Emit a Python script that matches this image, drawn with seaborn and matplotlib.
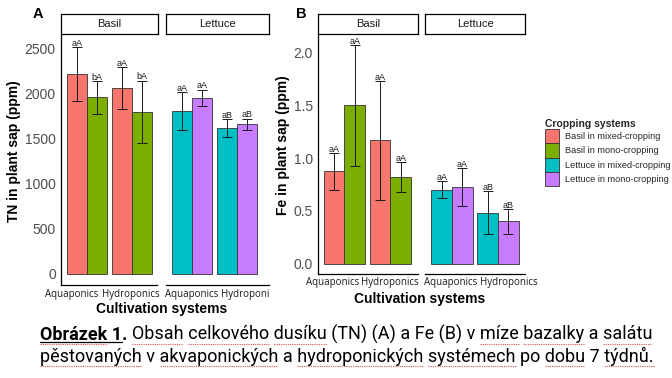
import matplotlib
matplotlib.use("Agg")
import matplotlib.pyplot as plt
import numpy as np
import pandas as pd
import seaborn as sns
from matplotlib.patches import Patch
from matplotlib.transforms import Bbox
from matplotlib.lines import Line2D

# ---------------- data ----------------
crops = ["Basil", "Lettuce"]
systems = ["Aquaponics", "Hydroponics"]
groups = ["Basil in mixed-cropping", "Basil in mono-cropping",
          "Lettuce in mixed-cropping", "Lettuce in mono-cropping"]
group_colors = ["#F8766D", "#7CAE00", "#00BFC4", "#C77CFF"]

row_crop = ["Basil", "Basil", "Basil", "Basil", "Lettuce", "Lettuce", "Lettuce", "Lettuce"]
row_group = [groups[0], groups[0], groups[1], groups[1], groups[2], groups[2], groups[3], groups[3]]
row_system = ["Aquaponics", "Hydroponics"] * 4

tn_mean = [2212, 2055, 1955, 1795, 1805, 1610, 1948, 1655]
tn_sd = [300, 234, 180, 345, 210, 100, 93, 65]
tn_letters = ["aA", "aA", "bA", "bA", "aA", "aB", "aA", "aB"]

fe_mean = [0.875, 1.17, 1.50, 0.82, 0.70, 0.485, 0.727, 0.40]
fe_sd = [0.175, 0.565, 0.57, 0.145, 0.08, 0.205, 0.18, 0.12]
fe_letters = ["aA", "aA", "aA", "aA", "aA", "aB", "aA", "aB"]

tn_ticks = [0, 500, 1000, 1500, 2000, 2500]
fe_ticks = [0.0, 0.5, 1.0, 1.5, 2.0]

caption_bold = "Obrázek 1."
caption_line1 = "Obsah celkového dusíku (TN) (A) a Fe (B) v míze bazalky a salátu"
caption_line2 = "pěstovaných v akvaponických a hydroponických systémech po dobu 7 týdnů."
squiggle1 = ["Obsah", "celkového", "dusíku", "míze", "bazalky", "salátu"]
squiggle2 = ["pěstovaných", "akvaponických", "hydroponických", "systémech", "dobu", "týdnů."]

df = pd.DataFrame({"crop": row_crop, "group": row_group, "system": row_system,
                   "tn": tn_mean, "tn_sd": tn_sd, "tn_let": tn_letters,
                   "fe": fe_mean, "fe_sd": fe_sd, "fe_let": fe_letters})
palette = dict(zip(groups, group_colors))

# ---------------- style ----------------
sns.set_style("white")
plt.rcParams["font.family"] = ["Liberation Sans", "DejaVu Sans"]

W, H = 672, 378
fig = plt.figure(figsize=(W / 100, H / 100), dpi=100)
fig.patch.set_facecolor("white")
PT = 0.72  # points per pixel at 100 dpi


def rect(x0, x1, y0, y1):
    return [x0 / W, 1 - y1 / H, (x1 - x0) / W, (y1 - y0) / H]


def fx(x):
    return x / W


def fy(y):
    return 1 - y / H


panels = [
    dict(col="tn", ylim=(-122, 2644), ticks=tn_ticks, fmt="{:.0f}", top=35, bottom=285,
         facets=[(61, 157, (-0.578, 1.556), (-15, -1.5)), (166, 269, (-0.578, 1.711), (0, 12.5))],
         ylabel="TN in plant sap (ppm)", ylab=(14.5, 151.5), xlab=(162, 309),
         letter="A", letter_xy=(38, 13.5), clip_right=270),
    dict(col="fe", ylim=(-0.098, 2.168), ticks=fe_ticks, fmt="{:.1f}", top=35, bottom=274,
         facets=[(318, 418, (-0.572, 1.6), (-12, -0.5)), (425, 525, (-0.587, 1.587), (-1, 10.5))],
         ylabel="Fe in plant sap (ppm)", ylab=(283.5, 145), xlab=(420, 298.5),
         letter="B", letter_xy=(301, 14.5), clip_right=None),
]

dark = "#1a1a1a"
for p in panels:
    col = p["col"]
    for ci, crop in enumerate(crops):
        x0, x1, xl, lab_dx = p["facets"][ci]
        ax = fig.add_axes(rect(x0, x1, p["top"], p["bottom"]))
        sub = df[df.crop == crop]
        hue_order = [g for g in groups if g.startswith(crop)]
        sns.barplot(data=sub, x="system", y=col, hue="group", hue_order=hue_order,
                    order=systems, palette=palette, width=0.9, errorbar=None,
                    saturation=1, edgecolor="#333333", linewidth=0.6, legend=False, ax=ax)
        for cont, g in zip(ax.containers, hue_order):
            rows = sub[sub.group == g].set_index("system").loc[systems]
            for bar, (_, r) in zip(cont, rows.iterrows()):
                xc = bar.get_x() + bar.get_width() / 2
                ax.errorbar(xc, r[col], yerr=r[col + "_sd"], fmt="none", ecolor=dark,
                            elinewidth=0.7, capsize=3.5, capthick=0.7, zorder=5)
                ax.annotate(r[col + "_let"], (xc, r[col] + r[col + "_sd"]),
                            xytext=(0, 2.6), textcoords="offset points", ha="center",
                            va="center", fontsize=6.5, color=dark, zorder=6)
        ax.set_xlim(*xl)
        ax.set_ylim(*p["ylim"])
        ax.set_xlabel("")
        ax.set_ylabel("")
        ax.set_facecolor("white")
        for s in ["top", "right"]:
            ax.spines[s].set_visible(False)
        ax.spines["bottom"].set_color("black")
        ax.spines["bottom"].set_linewidth(0.9)
        ax.tick_params(axis="x", length=2.2, width=0.7, color="#333333", labelbottom=False)
        # category labels under the ticks (nudged as in the reference)
        cb = Bbox.from_extents(0, 0, p["clip_right"], H) if (ci == 1 and p["clip_right"]) else None
        for i, sysname in enumerate(systems):
            t = ax.annotate(sysname, xy=(i, 0), xycoords=("data", "axes fraction"),
                            xytext=(lab_dx[i] * PT, -9 * PT), textcoords="offset points",
                            ha="center", va="center", fontsize=7.0, color=dark,
                            family=["Open Sans", "DejaVu Sans"], annotation_clip=False)
            if cb is not None:
                t.set_clip_box(cb)
                t.set_clip_on(True)
        if ci == 0:
            ax.set_yticks(p["ticks"])
            ax.set_yticklabels([p["fmt"].format(t) for t in p["ticks"]])
            ax.spines["left"].set_color("black")
            ax.spines["left"].set_linewidth(0.9)
            ax.tick_params(axis="y", length=2.2, width=0.7, color="#333333", pad=1.5,
                           labelsize=10, labelcolor="#4D4D4D")
        else:
            ax.spines["left"].set_visible(False)
            ax.set_yticks([])
        # strip
        sax = fig.add_axes(rect(x0, x1 + (1 if ci == 0 and col == "tn" else 0), 14, 34))
        sax.set_xticks([])
        sax.set_yticks([])
        sax.set_facecolor("white")
        for s in sax.spines.values():
            s.set_visible(True)
            s.set_color("black")
            s.set_linewidth(0.9)
        sax.text(0.5, 0.5, crop, ha="center", va="center", fontsize=8, color=dark,
                 transform=sax.transAxes)
    fig.text(fx(p["ylab"][0]), fy(p["ylab"][1]), p["ylabel"], rotation=90, ha="center",
             va="center", fontsize=10, fontweight="bold", color="black")
    fig.text(fx(p["xlab"][0]), fy(p["xlab"][1]), "Cultivation systems", ha="center",
             va="center", fontsize=10, fontweight="bold", color="black")
    fig.text(fx(p["letter_xy"][0]), fy(p["letter_xy"][1]), p["letter"], ha="center",
             va="center", fontsize=10.5, fontweight="bold", color="black")

# ---------------- legend ----------------
handles = [Patch(facecolor=c, edgecolor="#333333", linewidth=0.6) for c in group_colors]
leg = fig.legend(handles, groups, loc="upper left", bbox_to_anchor=(fx(545), fy(119)),
                 frameon=False, fontsize=6.6, title="Cropping systems",
                 title_fontproperties={"weight": "bold", "size": 7.5},
                 handlelength=1.53, handleheight=2.02, labelspacing=0.0,
                 handletextpad=0.65, borderpad=0, borderaxespad=0, alignment="left")

# ---------------- caption ----------------
renderer = fig.canvas.get_renderer()
cap_font = ["Roboto", "DejaVu Sans"]


def tw(s, weight="normal", size=10.0):
    t = fig.text(0, 0, s + "|", fontsize=size, fontweight=weight, family=cap_font)
    w = t.get_window_extent(renderer).width
    t.remove()
    t = fig.text(0, 0, "|", fontsize=size, fontweight=weight, family=cap_font)
    w -= t.get_window_extent(renderer).width
    t.remove()
    return w


base = 10.0
w_full = tw(caption_bold + " ", "bold", base) + tw(caption_line1, "normal", base)
cs = base * 610 / w_full

cx0 = 40
b1, b2 = 340, 362
wb = tw(caption_bold + " ", "bold", cs)
fig.text(fx(cx0), fy(b1), caption_bold, fontsize=cs, fontweight="bold", family=cap_font,
         va="baseline", ha="left", color="black")
fig.text(fx(cx0 + wb), fy(b1), caption_line1, fontsize=cs, family=cap_font,
         va="baseline", ha="left", color="black")
fig.text(fx(cx0), fy(b2), caption_line2, fontsize=cs, family=cap_font,
         va="baseline", ha="left", color="black")

# underline of bold label
wu = tw("Obrázek 1", "bold", cs)
fig.add_artist(Line2D([fx(cx0), fx(cx0 + wu)], [fy(b1 + 2), fy(b1 + 2)], color="black",
                      lw=0.9, transform=fig.transFigure))


def squiggle(xstart, width, base_y):
    fig.add_artist(Line2D([fx(xstart), fx(xstart + width)], [fy(base_y + 4), fy(base_y + 4)],
                          color="#d9534f", lw=0.8, linestyle=(0, (1, 1)),
                          transform=fig.transFigure))


squiggle(cx0, tw("Obrázek", "bold", cs), b1)
for w in squiggle1:
    i = caption_line1.find(w)
    squiggle(cx0 + wb + tw(caption_line1[:i], "normal", cs), tw(w, "normal", cs), b1)
for w in squiggle2:
    i = caption_line2.find(w)
    squiggle(cx0 + tw(caption_line2[:i], "normal", cs), tw(w, "normal", cs), b2)

fig.savefig("out.png", dpi=100, facecolor="white")
